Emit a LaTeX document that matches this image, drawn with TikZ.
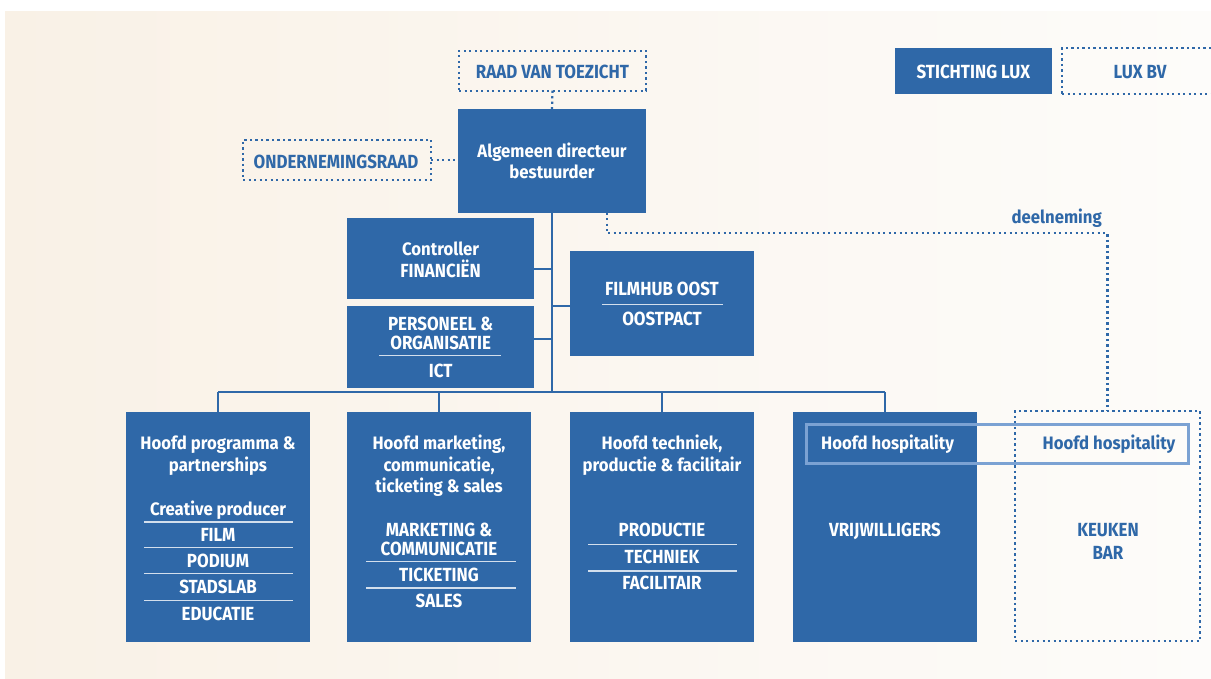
\documentclass[tikz,border=0pt]{standalone}
\usepackage{fontspec}
\setmainfont{Fira Sans}
\newfontfamily\mixf{Fira Sans}[FakeStretch=0.93]
\newfontfamily\capf{Fira Sans}[FakeStretch=0.89]
\definecolor{lblue}{HTML}{2F68A8}
\definecolor{divc}{HTML}{D3DFED}
\definecolor{framec}{HTML}{7BA2D3}
\definecolor{bgL}{HTML}{F9F1E6}
\definecolor{bgR}{HTML}{FDFCFA}
\tikzset{
  box/.style={fill=lblue, inner sep=0pt, outer sep=0pt},
  dotbox/.style={draw=lblue, line width=2.2pt, dash pattern=on 2.2pt off 3.3pt, inner sep=0pt, outer sep=0pt},
  dotline/.style={draw=lblue, line width=2.2pt, dash pattern=on 2.2pt off 3.3pt},
  conn/.style={draw=lblue, line width=2pt},
  divl/.style={draw=divc, line width=1.2pt},
  mw/.style={anchor=base, text=white, inner sep=0pt, font=\mixf\bfseries\fontsize{18}{21}\selectfont},
  cw/.style={anchor=base, text=white, inner sep=0pt, font=\capf\bfseries\fontsize{19}{21}\selectfont},
  mb/.style={mw, text=lblue},
  cb/.style={cw, text=lblue},
}
\begin{document}
\begin{tikzpicture}[x=1pt,y=-1pt]
\useasboundingbox (0,0) rectangle (1211,679);
\fill[white] (0,0) rectangle (1211,679);
\shade[left color=bgL, right color=bgR] (5,12) rectangle (1211,679);

% top boxes
\node[dotbox, minimum width=187pt, minimum height=39.7pt] (raad) at (552.5,70.85) {};
\node[box, minimum width=188pt, minimum height=103.7pt] (dir) at (552,160.85) {};
\node[dotbox, minimum width=188pt, minimum height=40pt] (ond) at (337,160) {};
\node[box, minimum width=156.7pt, minimum height=46pt] (stich) at (973.35,71.3) {};
\node[dotbox, minimum width=156pt, minimum height=46pt] (luxbv) at (1140,71) {};

\node[cb] (traad) at (552.5,78.3) {RAAD VAN TOEZICHT};
\node[cb] (tond) at (336,168.3) {ONDERNEMINGSRAAD};
\node[mw] (tdir1) at (552,157.3) {Algemeen directeur};
\node[mw] (tdir2) at (552,178.7) {bestuurder};
\node[cw] (tstich) at (973.35,79) {STICHTING LUX};
\node[cb] (tlux) at (1140,79) {LUX BV};

% middle boxes
\node[box, minimum width=186.7pt, minimum height=81pt] (ctrl) at (440.65,258.8) {};
\node[box, minimum width=186.7pt, minimum height=81.4pt] (pers) at (440.65,347) {};
\node[box, minimum width=184pt, minimum height=104.4pt] (film) at (662,303.5) {};

\node[mw] (tc1) at (440.65,255.7) {Controller};
\node[cw] (tc2) at (440.65,277.3) {FINANCIËN};
\node[cw] (tp1) at (440.65,330.7) {PERSONEEL \&};
\node[cw] (tp2) at (440.65,349.3) {ORGANISATIE};
\draw[divl] (379,355.7) -- (501,355.7);
\node[cw] (tp3) at (440.65,377.7) {ICT};
\node[cw] (tf1) at (662,296) {FILMHUB OOST};
\draw[divl] (602.3,304.3) -- (722.7,304.3);
\node[cw] (tf2) at (662,325) {OOSTPACT};

% bottom boxes
\node[box, minimum width=184pt, minimum height=229.7pt] (b1) at (218,526.85) {};
\node[box, minimum width=184pt, minimum height=229.7pt] (b2) at (439,526.85) {};
\node[box, minimum width=184pt, minimum height=229.7pt] (b3) at (662,526.85) {};
\node[box, minimum width=184pt, minimum height=229.7pt] (b4) at (885,526.85) {};
\node[dotbox, minimum width=185pt, minimum height=230pt] (b5) at (1107.5,526) {};

% box 1
\node[mw] (t11) at (218,449) {Hoofd programma \&};
\node[mw] (t12) at (218,471) {partnerships};
\node[mw] (t13) at (218,515) {Creative producer};
\draw[divl] (144,522) -- (293,522);
\node[cw] (t14) at (218,541.7) {FILM};
\draw[divl] (144,547.3) -- (293,547.3);
\node[cw] (t15) at (218,567) {PODIUM};
\draw[divl] (144,573.7) -- (293,573.7);
\node[cw] (t16) at (218,593) {STADSLAB};
\draw[divl] (144,600.7) -- (293,600.7);
\node[cw] (t17) at (218,620) {EDUCATIE};

% box 2
\node[mw] (t21) at (439,449) {Hoofd marketing,};
\node[mw] (t22) at (439,471) {communicatie,};
\node[mw] (t23) at (439,492.7) {ticketing \& sales};
\node[cw] (t24) at (439,536.7) {MARKETING \&};
\node[cw] (t25) at (439,555) {COMMUNICATIE};
\draw[divl] (366,561.3) -- (515.7,561.3);
\node[cw] (t26) at (439,581) {TICKETING};
\draw[divl] (366,588) -- (515.7,588);
\node[cw] (t27) at (439,607.7) {SALES};

% box 3
\node[mw] (t31) at (662,449) {Hoofd techniek,};
\node[mw] (t32) at (662,471) {productie \& facilitair};
\node[cw] (t33) at (662,536.7) {PRODUCTIE};
\draw[divl] (588,544.3) -- (737,544.3);
\node[cw] (t34) at (662,563.3) {TECHNIEK};
\draw[divl] (588,571) -- (737,571);
\node[cw] (t35) at (662,589) {FACILITAIR};

% box 4 and 5
\node[mw, anchor=base west] (t41) at (821,449) {Hoofd hospitality};
\node[cw] (t42) at (885,536.7) {VRIJWILLIGERS};
\node[mb] (t51) at (1109,449) {Hoofd hospitality};
\node[cb] (t52) at (1108,536.7) {KEUKEN};
\node[cb] (t53) at (1108,559.3) {BAR};

\node[draw=framec, line width=3pt, inner sep=0pt, minimum width=382pt, minimum height=39pt] (frame) at (997.5,444) {};

% solid connectors
\coordinate (bus) at (552,392);
\draw[conn] (dir.south) -- (bus);
\draw[conn] (b1.north |- bus) -- (b4.north |- bus);
\draw[conn] (b1.north |- bus) -- (b1.north);
\draw[conn] (b2.north |- bus) -- (b2.north);
\draw[conn] (b3.north |- bus) -- (b3.north);
\draw[conn] (b4.north |- bus) -- (b4.north);
\draw[conn] (ctrl.east |- 0,269) -- (bus |- 0,269);
\draw[conn] (pers.east |- 0,339) -- (bus |- 0,339);
\draw[conn] (film.west |- 0,306) -- (bus |- 0,306);

% dotted connectors
\draw[dotline] (raad.south) -- (dir.north);
\draw[dotline] (ond.east) -- (dir.west |- ond.east);
\coordinate (dl) at (606.7,233.3);
\draw[dotline] (dir.south -| dl) -- (dl) -- (b5.north |- dl) -- (b5.north);
\node[mb, anchor=base east] (tdeel) at (1102,223.3) {deelneming};
\end{tikzpicture}
\end{document}
